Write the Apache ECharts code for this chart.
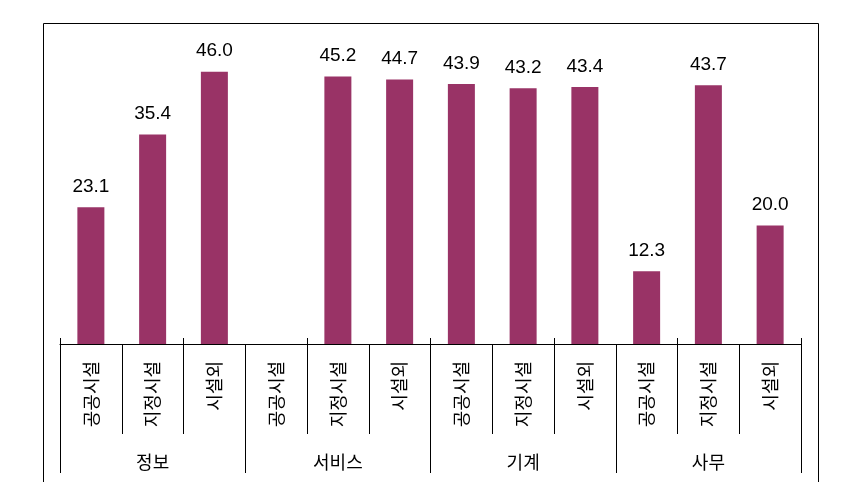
<!DOCTYPE html>
<html><head><meta charset="utf-8">
<script src="https://cdn.jsdelivr.net/npm/echarts@6/dist/echarts.min.js"></script>
<style>html,body{margin:0;padding:0;background:#fff}#c{width:852px;height:498px}</style>
</head><body><div id="c"></div>
<script>
const categories = ['공공시설','지정시설','시설외','공공시설','지정시설','시설외','공공시설','지정시설','시설외','공공시설','지정시설','시설외'];
const groups = ['정보','서비스','기계','사무'];
const values = [23.1, 35.4, 46.0, null, 45.2, 44.7, 43.9, 43.2, 43.4, 12.3, 43.7, 20.0];

const chart = echarts.init(document.getElementById('c'), null, {renderer:'canvas'});
const lineStyle = {color:'#000', width:1};
chart.setOption({
  animation:false,
  grid:{left:60, right:51, top:48, bottom:154},
  xAxis:[
    {type:'category', data:categories, position:'bottom',
     axisLine:{show:true, lineStyle},
     axisTick:{show:true, length:90, lineStyle},
     axisLabel:{rotate:90, margin:17, fontSize:18, color:'#000', fontFamily:'Noto Sans CJK KR', interval:0}},
    {type:'category', data:categories, position:'bottom',
     axisLine:{show:false}, axisTick:{show:true, inside:true, length:6, lineStyle},
     axisLabel:{show:false}},
    {type:'category', data:groups, position:'bottom',
     axisLine:{show:false}, axisTick:{show:true, length:129, lineStyle},
     axisLabel:{margin:109, fontSize:18, color:'#000', fontFamily:'Noto Sans CJK KR', interval:0}}
  ],
  yAxis:{type:'value', min:0, max:50, show:false, splitLine:{show:false}},
  series:[{
    type:'bar', data:values, barWidth:27, xAxisIndex:0,
    itemStyle:{color:'#993366'},
    label:{show:true, position:'top', distance:11, fontSize:19, color:'#000', fontFamily:'Liberation Sans, Arial',
      formatter:p => p.value == null ? '' : Number(p.value).toFixed(1)}
  }],
  graphic:[{type:'polyline', shape:{points:[[43.5,482],[43.5,23.5],[818.5,23.5],[818.5,482]]}, style:{stroke:'#000', lineWidth:1, fill:null}}]
});
</script></body></html>
